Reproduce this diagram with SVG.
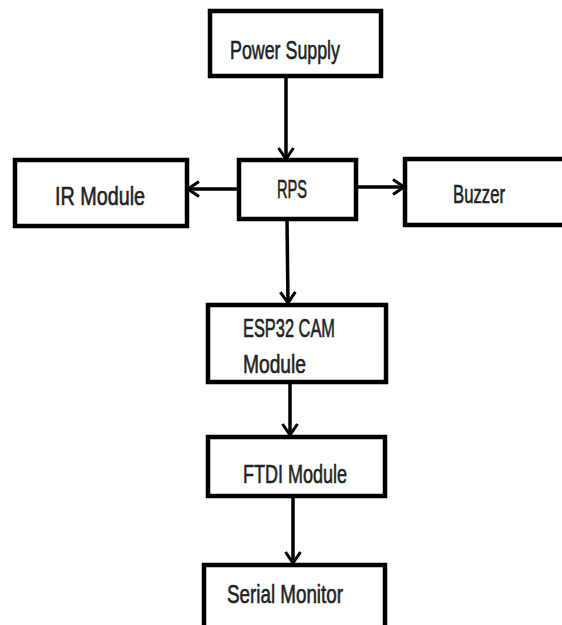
<svg xmlns="http://www.w3.org/2000/svg" width="562" height="625" viewBox="0 0 562 625">
  <style>
    .box { fill: #ffffff; stroke: #000000; stroke-width: 4.5; }
    .lbl { font-family: "Liberation Sans", Arial, sans-serif; font-size: 26px; fill: #222222; stroke: #222222; stroke-width: 0.6; }
    .conn { stroke: #000000; stroke-width: 3.5; fill: none; }
  </style>
  <defs>
    <marker id="arrow" viewBox="0 0 14 18" refX="12.5" refY="9" markerWidth="14" markerHeight="18" markerUnits="userSpaceOnUse" orient="auto">
      <path d="M1.5,1.5 L12.5,9 L1.5,16.5" fill="none" stroke="#000000" stroke-width="3"/>
    </marker>
  </defs>
  <rect width="562" height="625" fill="#ffffff"/>

  <g id="connectors">
    <line class="conn" x1="286" y1="78" x2="286" y2="159" marker-end="url(#arrow)"/>
    <line class="conn" x1="238" y1="189" x2="188" y2="189" marker-end="url(#arrow)"/>
    <line class="conn" x1="357" y1="187" x2="404" y2="187" marker-end="url(#arrow)"/>
    <line class="conn" x1="287" y1="220" x2="288" y2="303" marker-end="url(#arrow)"/>
    <line class="conn" x1="290" y1="384" x2="290" y2="435" marker-end="url(#arrow)"/>
    <line class="conn" x1="293" y1="498" x2="293" y2="563" marker-end="url(#arrow)"/>
  </g>

  <g id="power-supply">
    <rect class="box" x="210" y="11" width="171" height="65"/>
    <text class="lbl" x="230" y="59" textLength="110" lengthAdjust="spacingAndGlyphs">Power Supply</text>
  </g>

  <g id="rps">
    <rect class="box" x="239" y="160" width="117" height="59"/>
    <text class="lbl" x="277" y="198" textLength="30" lengthAdjust="spacingAndGlyphs">RPS</text>
  </g>

  <g id="ir-module">
    <rect class="box" x="15" y="160" width="172" height="66"/>
    <text class="lbl" x="55" y="205" textLength="90" lengthAdjust="spacingAndGlyphs">IR Module</text>
  </g>

  <g id="buzzer">
    <path class="box" d="M570,159 L405,159 L405,225 L570,225"/>
    <text class="lbl" x="453" y="203" textLength="52" lengthAdjust="spacingAndGlyphs">Buzzer</text>
  </g>

  <g id="esp32-cam">
    <rect class="box" x="208" y="305" width="178" height="77"/>
    <text class="lbl" x="243" y="337" textLength="92" lengthAdjust="spacingAndGlyphs">ESP32 CAM</text>
    <text class="lbl" x="243" y="373" textLength="63" lengthAdjust="spacingAndGlyphs">Module</text>
  </g>

  <g id="ftdi-module">
    <rect class="box" x="208" y="437" width="177" height="59"/>
    <text class="lbl" x="243" y="483" textLength="104" lengthAdjust="spacingAndGlyphs">FTDI Module</text>
  </g>

  <g id="serial-monitor">
    <path class="box" d="M204,640 L204,565 L385,565 L385,640"/>
    <text class="lbl" x="227" y="603" textLength="116" lengthAdjust="spacingAndGlyphs">Serial Monitor</text>
  </g>
</svg>
